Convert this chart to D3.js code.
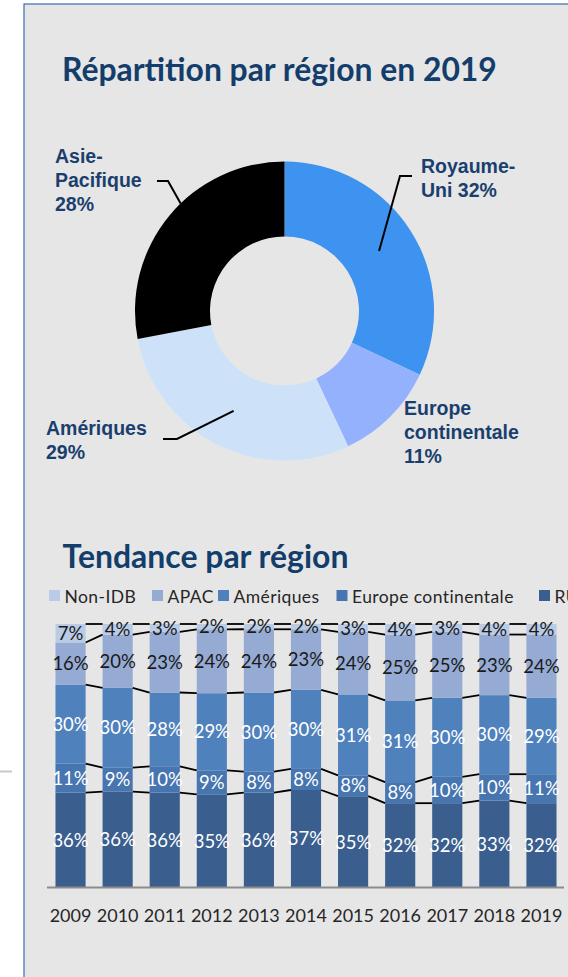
<!DOCTYPE html>
<html>
<head>
<meta charset="utf-8">
<script src="https://cdn.jsdelivr.net/npm/d3@7"></script>
<style>
  body { margin: 0; background: #fff; }
  svg { display: block; }
  text { font-family: Lato, sans-serif; }
</style>
</head>
<body>
<svg class="chart" width="568" height="977"></svg>
<script>
// donut: split by region, 2019
let pieRegions = ['Royaume-Uni', 'Europe continentale', 'Amériques', 'Asie-Pacifique'];
let pieValues = [32, 11, 29, 28];
let pieColors = ['#3d93ef', '#93b1fc', '#cde2f9', '#000000'];
let pieLabels = [['Royaume-', 'Uni 32%'], ['Europe', 'continentale', '11%'], ['Amériques', '29%'], ['Asie-', 'Pacifique', '28%']];

// stacked bars: trend by region (bottom to top)
let years = ['2009', '2010', '2011', '2012', '2013', '2014', '2015', '2016', '2017', '2018', '2019'];
let seriesNames = ['RU', 'Europe continentale', 'Amériques', 'APAC', 'Non-IDB'];
let ruVals     = [36, 36, 36, 35, 36, 37, 35, 32, 32, 33, 32];
let europeVals = [11, 9, 10, 9, 8, 8, 8, 8, 10, 10, 11];
let ameriVals  = [30, 30, 28, 29, 30, 30, 31, 31, 30, 30, 29];
let apacVals   = [16, 20, 23, 24, 24, 23, 24, 25, 25, 23, 24];
let nonIdbVals = [7, 4, 3, 2, 2, 2, 3, 4, 3, 4, 4];
let seriesColors = ['#3a5f8f', '#4675b0', '#4f81bd', '#95abd3', '#b9cbe6'];
let labelColors = ['#fff', '#fff', '#fff', '#1a1a1a', '#1a1a1a'];
let legendOrder = ['Non-IDB', 'APAC', 'Amériques', 'Europe continentale', 'RU'];

let navy = '#133d6b';
let svg = d3.select('svg.chart');

// panel background + blue border on left/top
svg.append('rect').attr('x', 24).attr('y', 4).attr('width', 560).attr('height', 990)
  .style('fill', '#e6e6e6').style('stroke', '#3b6db3').style('stroke-width', 1.2);
svg.append('line').attr('x1', 0).attr('x2', 12).attr('y1', 771.5).attr('y2', 771.5)
  .style('stroke', '#c8c8c8').style('stroke-width', 2);

function fitWidth(sel, target) {
  let size = parseFloat(sel.style('font-size'));
  let w = sel.node().getComputedTextLength();
  sel.style('font-size', (size * target / w) + 'px');
  return size * target / w;
}

let t1 = svg.append('text').attr('x', 62).attr('y', 81)
  .style('font-size', '26px').style('font-weight', 700).style('fill', navy)
  .text('Répartition par région en 2019');
fitWidth(t1, 435);

// ---- donut ----
let cx = 284.5, cy = 311, rOut = 149.5, rIn = 74.5;
let pie = d3.pie().sort(null).value(d => d)(pieValues);
let arc = d3.arc().innerRadius(rIn).outerRadius(rOut);

let donut = svg.append('g').attr('transform', `translate(${cx},${cy})`);
donut.selectAll('path.slice')
  .data(pie)
  .enter()
  .append('path')
  .attr('class', 'slice')
  .attr('d', arc)
  .style('fill', (d, i) => pieColors[i]);

// label placement (manual, like the original)
let pieLabelPos = [
  {x: 421, y: 172.7, lead: 'centroid', pts: [[400, 176], [412, 176]]},
  {x: 404, y: 415, lead: null},
  {x: 46, y: 435, lead: 'centroid', pts: [[177, 439], [163, 439]]},
  {x: 55, y: 163.3, lead: 'outer', pts: [[168, 181], [157, 181]]}
];

pieLabelPos.forEach((p, i) => {
  let txt = svg.append('text')
    .attr('x', p.x).attr('y', p.y)
    .style('font-family', '"Liberation Sans", Arial, sans-serif')
    .style('font-size', '19.5px').style('font-weight', 700).style('fill', '#1a3f6e');
  pieLabels[i].forEach((line, j) => {
    txt.append('tspan').attr('x', p.x).attr('dy', j == 0 ? 0 : 23.8).text(line);
  });

  if (p.lead) {
    let s;
    if (p.lead == 'centroid') {
      s = arc.centroid(pie[i]);
    } else {
      s = d3.pointRadial(316 * Math.PI / 180, rOut);
    }
    let pts = [[cx + s[0], cy + s[1]]].concat(p.pts);
    svg.append('path')
      .attr('d', d3.line()(pts))
      .style('fill', 'none').style('stroke', '#000').style('stroke-width', 2);
  }
});

// ---- stacked bars ----
let t2 = svg.append('text').attr('x', 62.6).attr('y', 567.5)
  .style('font-size', '26px').style('font-weight', 700).style('fill', navy)
  .text('Tendance par région');
fitWidth(t2, 286);

let valsBySeries = [ruVals, europeVals, ameriVals, apacVals, nonIdbVals];
let rows = years.map((y, i) => {
  let r = {year: y};
  seriesNames.forEach((s, k) => r[s] = valsBySeries[k][i]);
  return r;
});

let stacked = d3.stack().keys(seriesNames).offset(d3.stackOffsetExpand)(rows);

let x = d3.scaleBand().domain(years).range([47, 565]).paddingInner(0.36).paddingOuter(0.18);
let y = d3.scaleLinear().domain([0, 1]).range([887.5, 624]);
let bw = x.bandwidth();

// legend (swatch positions as in the original, last entry runs off the edge)
let legendX = [49, 152, 218, 336.5, 539];
let lg = svg.append('g').attr('class', 'legend');

legendOrder.forEach((name, i) => {
  let k = seriesNames.indexOf(name);
  lg.append('rect').attr('x', legendX[i]).attr('y', 590).attr('width', 11).attr('height', 11)
    .style('fill', seriesColors[k]);
  lg.append('text').attr('x', legendX[i] + 15.5).attr('y', 602.5)
    .style('font-size', '17.5px').style('letter-spacing', '0.4px')
    .style('fill', '#262626').text(name);
});

let layers = svg.selectAll('g.layer')
  .data(stacked)
  .enter()
  .append('g')
  .attr('class', 'layer')
  .style('fill', (d, k) => seriesColors[k]);

layers.selectAll('rect')
  .data(d => d)
  .enter()
  .append('rect')
  .attr('x', d => x(d.data.year))
  .attr('y', d => y(d[1]))
  .attr('width', bw)
  .attr('height', d => y(d[0]) - y(d[1]));

// series lines between bars at every segment top
stacked.forEach(layer => {
  for (let i = 0; i < years.length - 1; i++) {
    svg.append('line')
      .attr('x1', x(years[i]) + bw).attr('y1', y(layer[i][1]))
      .attr('x2', x(years[i + 1])).attr('y2', y(layer[i + 1][1]))
      .style('stroke', '#000').style('stroke-width', 1.8);
  }
});

// value labels
stacked.forEach((layer, k) => {
  svg.selectAll('text.val' + k)
    .data(layer)
    .enter()
    .append('text')
    .attr('class', 'val' + k)
    .attr('x', d => x(d.data.year) + bw / 2)
    .attr('y', d => (y(d[0]) + y(d[1])) / 2)
    .attr('dy', '0.36em')
    .attr('text-anchor', 'middle')
    .style('font-size', '18.5px')
    .style('fill', labelColors[k])
    .text(d => d.data[layer.key] + '%');
});

// axis line + year labels
svg.append('line').attr('x1', 47).attr('x2', 564).attr('y1', y(0)).attr('y2', y(0))
  .style('stroke', '#8c8c8c').style('stroke-width', 2);

svg.selectAll('text.year')
  .data(years)
  .enter()
  .append('text')
  .attr('class', 'year')
  .attr('x', d => x(d) + bw / 2)
  .attr('y', 921.5)
  .attr('text-anchor', 'middle')
  .style('font-size', '18px')
  .style('fill', '#262626')
  .text(d => d);
</script>
</body>
</html>
